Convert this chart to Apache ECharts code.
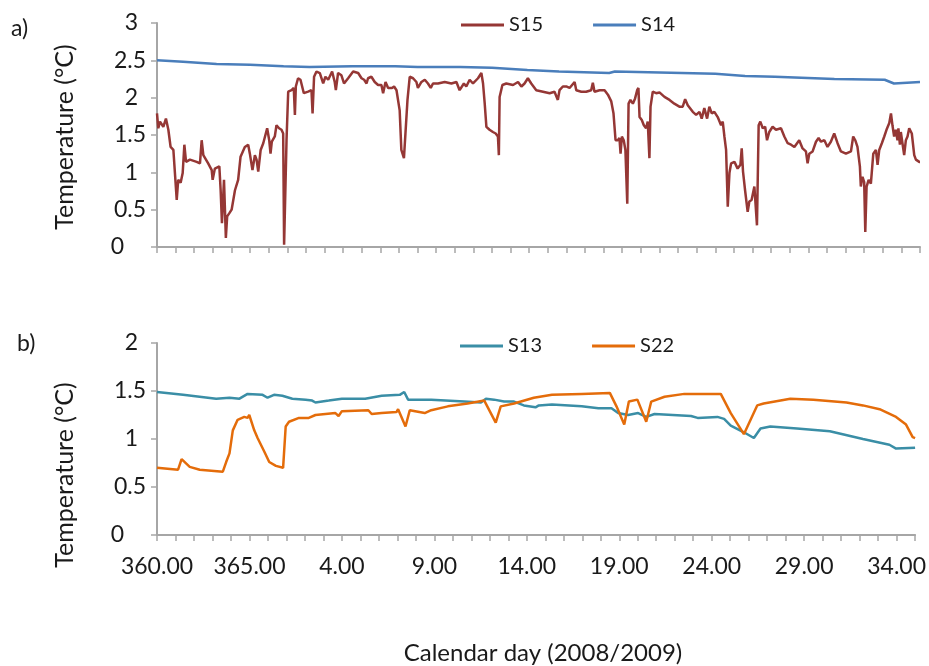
<!DOCTYPE html>
<html>
<head>
<meta charset="utf-8">
<script src="https://cdn.jsdelivr.net/npm/echarts@6/dist/echarts.min.js"></script>
<style>
  html, body { margin: 0; padding: 0; background: #fff; }
  #chart { width: 929px; height: 666px; }
</style>
</head>
<body>
<div id="chart"></div>
<script>
// continuous day number: 360..366 is 2008, 367.. is day 1.. of 2009
const s15Days = [360.0, 360.07, 360.16, 360.34, 360.48, 360.61, 360.73, 360.88, 361.06, 361.14, 361.27, 361.38, 361.47, 361.56, 361.77, 362.13, 362.31, 362.4, 362.49, 362.75, 362.94, 362.99, 363.11, 363.35, 363.42, 363.49, 363.6, 363.7, 363.77, 363.88, 364.01, 364.19, 364.36, 364.49, 364.72, 364.9, 364.99, 365.13, 365.26, 365.35, 365.44, 365.57, 365.71, 365.92, 366.03, 366.1, 366.17, 366.33, 366.42, 366.56, 366.69, 366.78, 366.83, 366.96, 367.05, 367.23, 367.35, 367.41, 367.46, 367.58, 367.71, 367.89, 368.12, 368.3, 368.36, 368.44, 368.57, 368.75, 368.93, 369.05, 369.2, 369.41, 369.55, 369.61, 369.73, 369.91, 370.05, 370.27, 370.54, 370.63, 370.81, 370.99, 371.13, 371.26, 371.34, 371.52, 371.7, 371.88, 372.06, 372.15, 372.28, 372.42, 372.63, 372.74, 372.87, 373.04, 373.13, 373.27, 373.37, 373.46, 373.58, 373.76, 373.94, 374.02, 374.21, 374.39, 374.56, 374.71, 374.83, 375.1, 375.46, 375.82, 376.09, 376.26, 376.49, 376.62, 376.8, 376.98, 377.25, 377.43, 377.52, 377.61, 377.7, 377.87, 378.05, 378.2, 378.32, 378.37, 378.41, 378.56, 378.77, 379.13, 379.4, 379.58, 379.75, 379.93, 380.11, 380.38, 380.74, 381.1, 381.36, 381.54, 381.63, 381.81, 381.99, 382.17, 382.44, 382.53, 382.8, 383.06, 383.33, 383.42, 383.51, 383.78, 384.05, 384.23, 384.41, 384.53, 384.64, 384.76, 384.85, 384.91, 384.98, 385.08, 385.17, 385.27, 385.34, 385.44, 385.57, 385.69, 385.8, 385.87, 385.93, 386.05, 386.16, 386.28, 386.37, 386.46, 386.52, 386.64, 386.82, 387.0, 387.27, 387.54, 387.8, 388.07, 388.25, 388.38, 388.52, 388.79, 388.97, 389.15, 389.27, 389.41, 389.56, 389.68, 389.81, 389.95, 390.13, 390.31, 390.4, 390.49, 390.58, 390.67, 390.76, 390.85, 391.03, 391.2, 391.35, 391.42, 391.49, 391.6, 391.74, 391.83, 391.95, 392.1, 392.19, 392.24, 392.33, 392.42, 392.55, 392.68, 392.78, 392.9, 393.08, 393.26, 393.53, 393.71, 393.89, 394.07, 394.25, 394.51, 394.69, 394.87, 394.96, 395.05, 395.23, 395.41, 395.55, 395.68, 395.86, 396.03, 396.21, 396.39, 396.57, 396.75, 397.02, 397.29, 397.41, 397.52, 397.64, 397.77, 397.82, 397.91, 398.0, 398.06, 398.13, 398.24, 398.36, 398.49, 398.63, 398.72, 398.81, 398.95, 399.08, 399.2, 399.35, 399.44, 399.52, 399.61, 399.7, 399.79, 399.84, 399.92, 399.97, 400.06, 400.15, 400.24, 400.33, 400.42, 400.56, 400.69, 400.78, 400.96, 401.0];
const s15Temp = [1.79, 1.59, 1.68, 1.61, 1.72, 1.57, 1.34, 1.3, 0.63, 0.9, 0.86, 0.99, 1.37, 1.14, 1.17, 1.14, 1.12, 1.43, 1.23, 1.12, 1.03, 0.9, 1.05, 1.08, 0.76, 0.32, 0.9, 0.12, 0.41, 0.45, 0.5, 0.76, 0.9, 1.21, 1.34, 1.37, 1.25, 1.03, 1.23, 1.17, 1.01, 1.3, 1.39, 1.59, 1.43, 1.25, 1.41, 1.48, 1.63, 1.59, 1.57, 1.52, 0.03, 1.43, 2.08, 2.1, 2.13, 1.77, 2.15, 2.26, 2.24, 2.06, 2.08, 2.1, 1.79, 2.28, 2.35, 2.33, 2.19, 2.28, 2.24, 2.35, 2.21, 2.1, 2.33, 2.3, 2.19, 2.26, 2.35, 2.37, 2.33, 2.26, 2.24, 2.19, 2.26, 2.28, 2.21, 2.17, 2.17, 2.06, 2.21, 2.13, 2.13, 2.15, 2.1, 1.83, 1.3, 1.19, 1.21, 1.97, 2.28, 2.26, 2.21, 2.13, 2.21, 2.24, 2.19, 2.13, 2.19, 2.19, 2.21, 2.19, 2.21, 2.1, 2.19, 2.15, 2.24, 2.19, 2.26, 2.33, 2.19, 1.92, 1.61, 1.57, 1.54, 1.52, 1.48, 1.23, 2.01, 2.17, 2.19, 2.17, 2.21, 2.15, 2.19, 2.26, 2.19, 2.1, 2.08, 2.06, 2.08, 1.97, 2.1, 2.15, 2.15, 2.13, 2.21, 2.1, 2.08, 2.08, 2.1, 2.2, 2.08, 2.1, 2.1, 2.04, 1.95, 1.79, 1.43, 1.43, 1.46, 1.25, 1.48, 1.43, 1.3, 0.58, 1.92, 1.97, 1.92, 1.99, 2.1, 2.13, 1.74, 1.7, 1.63, 1.59, 1.68, 1.19, 1.88, 2.08, 2.06, 2.07, 2.01, 1.97, 1.92, 1.88, 1.88, 1.98, 1.9, 1.81, 1.77, 1.81, 1.72, 1.86, 1.72, 1.88, 1.79, 1.81, 1.74, 1.63, 1.68, 1.48, 1.3, 0.54, 0.99, 1.12, 1.14, 1.05, 1.1, 1.32, 1.01, 0.76, 0.47, 0.61, 0.63, 0.81, 0.83, 0.29, 1.63, 1.68, 1.59, 1.61, 1.43, 1.54, 1.61, 1.57, 1.59, 1.48, 1.39, 1.37, 1.34, 1.43, 1.32, 1.28, 1.12, 1.25, 1.28, 1.41, 1.46, 1.41, 1.43, 1.34, 1.41, 1.52, 1.39, 1.28, 1.25, 1.28, 1.48, 1.43, 1.34, 1.08, 0.81, 0.94, 0.87, 0.2, 0.81, 0.9, 0.85, 1.25, 1.3, 1.1, 1.3, 1.39, 1.48, 1.57, 1.66, 1.79, 1.63, 1.48, 1.57, 1.43, 1.59, 1.37, 1.54, 1.52, 1.23, 1.43, 1.48, 1.59, 1.52, 1.23, 1.17, 1.14, 1.14];

const s14Days = [360.0, 361.4, 363.2, 365.0, 366.8, 368.2, 370.5, 372.8, 374.0, 376.3, 378.0, 379.9, 381.6, 384.3, 384.6, 386.4, 390.0, 391.6, 393.2, 396.4, 399.1, 399.6, 401.0];
const s14Temp = [2.50, 2.48, 2.45, 2.44, 2.42, 2.41, 2.42, 2.42, 2.41, 2.41, 2.40, 2.37, 2.35, 2.33, 2.35, 2.34, 2.32, 2.29, 2.28, 2.25, 2.24, 2.19, 2.21];

const s13Days = [360.0, 361.41, 363.2, 363.92, 364.46, 364.9, 365.71, 365.98, 366.33, 366.78, 367.32, 368.04, 368.39, 368.57, 369.29, 370.0, 371.26, 372.15, 373.13, 373.37, 373.58, 374.83, 376.62, 377.52, 377.79, 378.23, 378.77, 379.31, 379.84, 380.47, 380.65, 381.36, 382.97, 383.87, 384.58, 384.94, 385.48, 386.02, 386.46, 386.91, 388.88, 389.24, 390.31, 390.67, 391.03, 391.74, 392.28, 392.64, 393.17, 394.61, 396.39, 398.18, 399.61, 399.97, 401.0];
const s13Temp = [1.49, 1.46, 1.42, 1.43, 1.42, 1.47, 1.46, 1.43, 1.46, 1.45, 1.42, 1.41, 1.40, 1.38, 1.40, 1.42, 1.42, 1.45, 1.46, 1.49, 1.41, 1.41, 1.39, 1.38, 1.42, 1.41, 1.39, 1.39, 1.35, 1.33, 1.35, 1.36, 1.34, 1.32, 1.32, 1.27, 1.25, 1.27, 1.23, 1.26, 1.24, 1.22, 1.23, 1.21, 1.14, 1.07, 1.01, 1.11, 1.13, 1.11, 1.08, 1.00, 0.94, 0.90, 0.91];

const s22Days = [360.0, 361.14, 361.33, 361.77, 362.31, 363.56, 363.74, 363.92, 364.1, 364.36, 364.72, 364.9, 364.99, 365.26, 365.44, 365.8, 366.07, 366.43, 366.82, 366.96, 367.14, 367.68, 368.21, 368.57, 369.65, 369.82, 370.0, 371.43, 371.61, 372.15, 372.95, 373.04, 373.22, 373.44, 373.67, 374.48, 374.83, 375.73, 376.8, 377.7, 378.32, 378.59, 379.31, 380.38, 381.36, 382.97, 384.49, 384.85, 385.27, 385.52, 385.98, 386.46, 386.73, 387.45, 388.52, 390.49, 391.03, 391.74, 392.46, 392.81, 394.25, 395.5, 397.29, 398.18, 399.08, 399.97, 400.51, 400.87, 401.0];
const s22Temp = [0.70, 0.68, 0.79, 0.71, 0.68, 0.66, 0.76, 0.85, 1.09, 1.20, 1.23, 1.22, 1.25, 1.09, 1.01, 0.87, 0.76, 0.72, 0.70, 1.13, 1.18, 1.22, 1.22, 1.25, 1.27, 1.24, 1.29, 1.30, 1.26, 1.27, 1.28, 1.31, 1.23, 1.13, 1.30, 1.27, 1.30, 1.34, 1.37, 1.40, 1.17, 1.34, 1.37, 1.43, 1.46, 1.47, 1.48, 1.34, 1.15, 1.39, 1.41, 1.18, 1.39, 1.44, 1.47, 1.47, 1.27, 1.05, 1.35, 1.37, 1.42, 1.41, 1.38, 1.35, 1.31, 1.23, 1.15, 1.02, 1.01];

const dayTicks = [360, 365, 370, 375, 380, 385, 390, 395, 400];

const pair = (xs, ys) => xs.map((x, i) => [x, ys[i]]);
const font = 'Lato, "Open Sans", sans-serif';
const axisGray = '#a6a6a6';
const textColor = '#1a1a1a';

const dayLabel = v => {
  if (dayTicks.indexOf(v) < 0) return '';
  return (v > 366 ? v - 366 : v).toFixed(2);
};

const yLabel = v => {
  if (v === 0) return '{z|0}';
  if (Number.isInteger(v)) return '{i|' + v + '}';
  return '{d|' + v + '}';
};
const yRich = {
  z: { fontSize: 23, fontFamily: font, color: textColor, padding: [0, 22, 0, 0] },
  i: { fontSize: 23, fontFamily: font, color: textColor, padding: [0, 8, 0, 0] },
  d: { fontSize: 23, fontFamily: font, color: textColor }
};

const xAxisBase = {
  type: 'value',
  min: 360,
  max: 401,
  interval: 1,
  axisLine: { lineStyle: { color: axisGray, width: 2 } },
  axisTick: { show: true, length: 6, lineStyle: { color: axisGray, width: 1.5 } },
  splitLine: { show: false }
};

const yAxisBase = {
  type: 'value',
  min: 0,
  interval: 0.5,
  axisLine: { show: true, lineStyle: { color: axisGray, width: 2 } },
  axisTick: { show: true, length: 6, lineStyle: { color: axisGray, width: 1.5 } },
  splitLine: { show: false },
  axisLabel: { margin: 11, formatter: yLabel, rich: yRich }
};

const chart = echarts.init(document.getElementById('chart'));

const lineSeries = (name, data, color, idx) => ({
  name: name,
  type: 'line',
  xAxisIndex: idx,
  yAxisIndex: idx,
  data: data,
  showSymbol: false,
  symbol: 'none',
  lineStyle: { color: color, width: 2.5 },
  itemStyle: { color: color },
  animation: false
});

const legendBase = {
  icon: 'rect',
  itemWidth: 43,
  itemHeight: 3,
  itemGap: 50,
  textStyle: { fontSize: 20, fontFamily: font, color: textColor }
};

const option = {
  backgroundColor: '#fff',
  animation: false,
  grid: [
    { left: 157, right: 9, top: 23, height: 224 },
    { left: 157, right: 9, top: 343, height: 192 }
  ],
  legend: [
    Object.assign({}, legendBase, { data: ['S15', 'S14'], left: 456, top: 10 }),
    Object.assign({}, legendBase, { data: ['S13', 'S22'], left: 455, top: 331 })
  ],
  xAxis: [
    Object.assign({}, xAxisBase, { gridIndex: 0, axisLabel: { show: false } }),
    Object.assign({}, xAxisBase, {
      gridIndex: 1,
      axisLabel: {
        show: true, margin: 20, fontSize: 23, fontFamily: font, color: textColor,
        formatter: dayLabel, showMinLabel: true, showMaxLabel: true
      }
    })
  ],
  yAxis: [
    Object.assign({}, yAxisBase, { gridIndex: 0, max: 3 }),
    Object.assign({}, yAxisBase, { gridIndex: 1, max: 2 })
  ],
  graphic: [
    { type: 'text', left: 11, top: 17, style: { text: 'a)', fontSize: 23, fontFamily: font, fill: textColor } },
    { type: 'text', left: 17, top: 332, style: { text: 'b)', fontSize: 23, fontFamily: font, fill: textColor } },
    { type: 'text', x: 65, y: 137, rotation: Math.PI / 2,
      style: { text: 'Temperature (°C)', fontSize: 25, fontFamily: font, fill: textColor, align: 'center', verticalAlign: 'middle' } },
    { type: 'text', x: 65, y: 475, rotation: Math.PI / 2,
      style: { text: 'Temperature (°C)', fontSize: 25, fontFamily: font, fill: textColor, align: 'center', verticalAlign: 'middle' } },
    { type: 'text', x: 543, y: 653,
      style: { text: 'Calendar day (2008/2009)', fontSize: 24, fontFamily: font, fill: textColor, align: 'center', verticalAlign: 'middle' } }
  ],
  series: [
    lineSeries('S15', pair(s15Days, s15Temp), '#953735', 0),
    lineSeries('S14', pair(s14Days, s14Temp), '#4a7ebb', 0),
    lineSeries('S13', pair(s13Days, s13Temp), '#3a8ea6', 1),
    lineSeries('S22', pair(s22Days, s22Temp), '#e46c0a', 1)
  ]
};

chart.setOption(option);
</script>
</body>
</html>
